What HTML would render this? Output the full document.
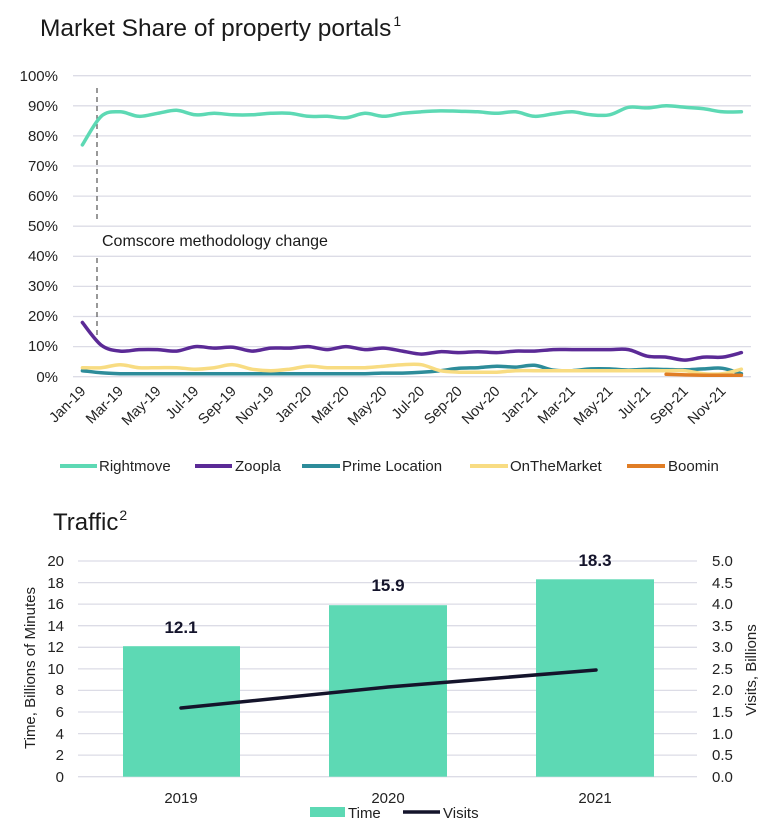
<!DOCTYPE html>
<html><head><meta charset="utf-8"><style>
html,body{margin:0;padding:0;background:#fff;}
svg{display:block;font-family:"Liberation Sans",sans-serif;}
</style></head><body>
<svg width="780" height="829" viewBox="0 0 780 829" xmlns="http://www.w3.org/2000/svg">
<text x="40" y="36" font-size="24.5" fill="#1a1a1a">Market Share of property portals<tspan font-size="14" dy="-10" dx="2">1</tspan></text>
<g stroke="#dcdce6" stroke-width="1.3">
<line x1="73" x2="751" y1="75.7" y2="75.7"/><line x1="73" x2="751" y1="105.8" y2="105.8"/><line x1="73" x2="751" y1="135.9" y2="135.9"/><line x1="73" x2="751" y1="166" y2="166"/><line x1="73" x2="751" y1="196.1" y2="196.1"/><line x1="73" x2="751" y1="226.2" y2="226.2"/><line x1="73" x2="751" y1="256.3" y2="256.3"/><line x1="73" x2="751" y1="286.4" y2="286.4"/><line x1="73" x2="751" y1="316.5" y2="316.5"/><line x1="73" x2="751" y1="346.6" y2="346.6"/><line x1="73" x2="751" y1="376.7" y2="376.7"/>
</g>
<g font-size="15" fill="#222" text-anchor="end">
<text x="58" y="81">100%</text><text x="58" y="111">90%</text><text x="58" y="141">80%</text><text x="58" y="171">70%</text><text x="58" y="201">60%</text><text x="58" y="231">50%</text><text x="58" y="261">40%</text><text x="58" y="291">30%</text><text x="58" y="321">20%</text><text x="58" y="351">10%</text><text x="58" y="382">0%</text>
</g>
<line x1="97" x2="97" y1="88" y2="222" stroke="#555" stroke-dasharray="5,4" stroke-width="1.2"/>
<line x1="97" x2="97" y1="258" y2="340" stroke="#555" stroke-dasharray="5,4" stroke-width="1.2"/>
<text x="102" y="246" font-size="16" fill="#1a1a1a">Comscore methodology change</text>
<g id="series" fill="none" stroke-width="3.5" stroke-linejoin="round" stroke-linecap="round"></g>
<g id="xl" font-size="14.5" fill="#222" text-anchor="end"></g>
<g font-size="15" fill="#222">
<line x1="60" x2="97" y1="466" y2="466" stroke="#5dd9b4" stroke-width="4"/><text x="99" y="471">Rightmove</text>
<line x1="195" x2="232" y1="466" y2="466" stroke="#5b2a96" stroke-width="4"/><text x="235" y="471">Zoopla</text>
<line x1="302" x2="340" y1="466" y2="466" stroke="#2d8c9a" stroke-width="4"/><text x="342" y="471">Prime Location</text>
<line x1="470" x2="508" y1="466" y2="466" stroke="#f8dc82" stroke-width="4"/><text x="510" y="471">OnTheMarket</text>
<line x1="627" x2="665" y1="466" y2="466" stroke="#e07d25" stroke-width="4"/><text x="668" y="471">Boomin</text>
</g>

<text x="53" y="530" font-size="24" fill="#1a1a1a">Traffic<tspan font-size="14" dy="-10" dx="1">2</tspan></text>
<g stroke="#dcdce6" stroke-width="1.3">
<line x1="78" x2="697" y1="561" y2="561"/><line x1="78" x2="697" y1="582.6" y2="582.6"/><line x1="78" x2="697" y1="604.1" y2="604.1"/><line x1="78" x2="697" y1="625.7" y2="625.7"/><line x1="78" x2="697" y1="647.3" y2="647.3"/><line x1="78" x2="697" y1="668.9" y2="668.9"/><line x1="78" x2="697" y1="690.4" y2="690.4"/><line x1="78" x2="697" y1="712" y2="712"/><line x1="78" x2="697" y1="733.6" y2="733.6"/><line x1="78" x2="697" y1="755.1" y2="755.1"/><line x1="78" x2="697" y1="776.7" y2="776.7"/>
</g>
<g font-size="15" fill="#222" text-anchor="end">
<text x="64" y="566">20</text><text x="64" y="588">18</text><text x="64" y="609">16</text><text x="64" y="631">14</text><text x="64" y="652">12</text><text x="64" y="674">10</text><text x="64" y="695">8</text><text x="64" y="717">6</text><text x="64" y="739">4</text><text x="64" y="760">2</text><text x="64" y="782">0</text>
</g>
<g font-size="15" fill="#222">
<text x="712" y="566">5.0</text><text x="712" y="588">4.5</text><text x="712" y="609">4.0</text><text x="712" y="631">3.5</text><text x="712" y="652">3.0</text><text x="712" y="674">2.5</text><text x="712" y="695">2.0</text><text x="712" y="717">1.5</text><text x="712" y="739">1.0</text><text x="712" y="760">0.5</text><text x="712" y="782">0.0</text>
</g>
<text transform="translate(35,668) rotate(-90)" font-size="15" fill="#222" text-anchor="middle">Time, Billions of Minutes</text>
<text transform="translate(756,670) rotate(-90)" font-size="15" fill="#222" text-anchor="middle">Visits, Billions</text>
<g fill="#5dd9b4">
<rect x="123" y="646.2" width="117" height="130.5"/>
<rect x="329" y="605.2" width="118" height="171.5"/>
<rect x="536" y="579.3" width="118" height="197.4"/>
</g>
<polyline points="181,708 388,687 596,670" fill="none" stroke="#14142b" stroke-width="3.5" stroke-linecap="round"/>
<g font-size="17" font-weight="bold" fill="#14142b" text-anchor="middle">
<text x="181" y="633">12.1</text><text x="388" y="591">15.9</text><text x="595" y="566">18.3</text>
</g>
<g font-size="15" fill="#222" text-anchor="middle">
<text x="181" y="803">2019</text><text x="388" y="803">2020</text><text x="595" y="803">2021</text>
</g>
<rect x="310" y="807" width="35" height="10" fill="#5dd9b4"/>
<text x="348" y="818" font-size="15" fill="#222">Time</text>
<line x1="403" x2="440" y1="812" y2="812" stroke="#14142b" stroke-width="3.5"/>
<text x="443" y="818" font-size="15" fill="#222">Visits</text>
</svg>
<script>
const X=i=>82.4+i*18.83, Y=v=>376.7-v*3.01;
function smooth(p){let d=`M${p[0][0].toFixed(1)},${p[0][1].toFixed(1)}`;
for(let i=0;i<p.length-1;i++){const p0=p[i-1]||p[i],p1=p[i],p2=p[i+1],p3=p[i+2]||p2;
const c1=[p1[0]+(p2[0]-p0[0])/6,p1[1]+(p2[1]-p0[1])/6],c2=[p2[0]-(p3[0]-p1[0])/6,p2[1]-(p3[1]-p1[1])/6];
d+=` C${c1[0].toFixed(1)},${c1[1].toFixed(1)} ${c2[0].toFixed(1)},${c2[1].toFixed(1)} ${p2[0].toFixed(1)},${p2[1].toFixed(1)}`;}return d;}
const S={
"#2d8c9a":[2,1.3,1,1,1,1,1,1,1,1,1,1,1,1,1,1,1.2,1.2,1.5,2,2.8,3,3.5,3.2,3.8,2.2,2,2.6,2.6,2.2,2.5,2.4,2.3,2.6,2.8,1],
"#f8dc82":[3,3,4,3,3,3,2.5,3,4,2.5,2,2.5,3.5,3,3,3,3.5,4,4,2,1.5,1.5,1.5,2,2,2,2,2,2,2,2,2,2,1,1,2.5],
"#5b2a96":[18,10.5,8.5,9,9,8.5,10,9.5,9.8,8.5,9.5,9.5,10,9,10,9,9.5,8.5,7.5,8.3,8,8.3,8,8.5,8.5,9,9,9,9,9,6.8,6.5,5.5,6.5,6.5,8,8.3],
"#5dd9b4":[77,86.5,88,86.5,87.5,88.5,87,87.5,87,87,87.5,87.5,86.5,86.5,86,87.5,86.5,87.5,88,88.3,88.2,88,87.5,88,86.5,87.3,88,87,87,89.5,89.3,90,89.5,89,88,88]};
let g=document.getElementById('series'),h='';
for(const c in S){let a=S[c].slice(0,36);h+=`<path stroke="${c}" d="${smooth(a.map((v,i)=>[X(i),Y(v)]))}"/>`;}
h+=`<path stroke="#e07d25" d="${smooth([0.8,0.6,0.5,0.5,0.5].map((v,i)=>[X(31+i),Y(v)]))}"/>`;
g.innerHTML=h;
const m=["Jan","Mar","May","Jul","Sep","Nov"];let t='';
for(let i=0;i<36;i+=2){const lab=m[(i%12)/2]+'-'+(19+Math.floor(i/12));t+=`<text transform="translate(${(X(i)+4).toFixed(1)},392) rotate(-45)">${lab}</text>`;}
document.getElementById('xl').innerHTML=t;
</script>
</body></html>
